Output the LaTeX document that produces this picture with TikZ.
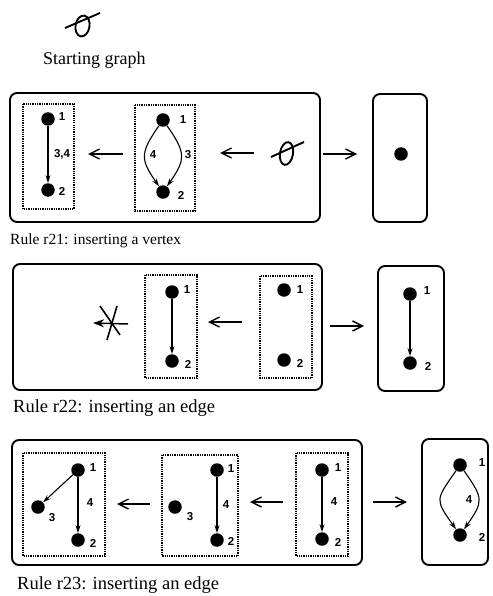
\documentclass[tikz,border=0pt]{standalone}
\usepackage{fontspec}
\setmainfont{Liberation Serif}
\newfontfamily\labfont{Liberation Sans}
\usetikzlibrary{arrows.meta}
\begin{document}
\begin{tikzpicture}[x=1pt,y=-1pt,
  vtx/.style={circle,fill=black,inner sep=0pt,minimum size=13.5pt},
  lab/.style={font=\labfont\bfseries\fontsize{11.5}{13}\selectfont,inner sep=0pt},
  captext/.style={font=\fontsize{18.5}{22}\selectfont,anchor=base west,inner sep=0pt},
  capsmall/.style={font=\fontsize{15.5}{18}\selectfont,anchor=base west,inner sep=0pt},
  rulebox/.style={draw,line width=1.9pt,rounded corners=7pt},
  lhsbox/.style={draw,densely dotted,line width=1.3pt},
  edge/.style={-{Stealth[length=8pt,width=5pt]},line width=1.1pt},
  morph/.style={-{Straight Barb[length=10pt,width=10pt,line width=1.4pt]},line width=1.6pt},
  emptyg/.style={line width=1.9pt}]
\useasboundingbox (0,0) rectangle (492,596);

% starting graph
\draw[emptyg,rotate around={-10:(82.5,26)}] (82.5,26) ellipse [x radius=7pt, y radius=10.5pt];
\draw[emptyg] (65,28) -- (100,13);
\node[captext,font=\fontsize{18}{22}\selectfont] (startcap) at (43,65) {Starting graph};

% ---------------- Rule r21 ----------------
\draw[rulebox] (10,93) rectangle (320,222);
\draw[rulebox] (373,94) rectangle (427,222);
\node[vtx] (r21v) at (401,154) {};
\coordinate (r21ma) at (323,154);
\coordinate (r21mb) at (357,154);
\draw[morph] (r21ma) -- (r21mb);
\draw[emptyg,rotate around={-10:(286.5,153.5)}] (286.5,153.5) ellipse [x radius=6.5pt, y radius=11.5pt];
\draw[emptyg] (271,157) -- (304,142);
\coordinate (r21la) at (254,153);
\coordinate (r21lb) at (220,153);
\draw[morph] (r21la) -- (r21lb);
% middle graph
\draw[lhsbox] (135,105) rectangle (195,211);
\node[vtx] (b1) at (163,120) {};
\node[vtx] (b2) at (163,192) {};
\node[lab] (b1l) at (183,120) {1};
\node[lab] (b2l) at (181,195) {2};
\draw[edge] (b1) to[out=235,in=125,looseness=1.4] (b2);
\draw[edge] (b1) to[out=-55,in=55,looseness=1.4] (b2);
\node[lab] (b4l) at (153,155) {4};
\node[lab] (b3l) at (188,155) {3};
\coordinate (r21ka) at (123,154);
\coordinate (r21kb) at (88,154);
\draw[morph] (r21ka) -- (r21kb);
% left graph
\draw[lhsbox] (23,104) rectangle (74,209);
\node[vtx] (c1) at (48,119) {};
\node[vtx] (c2) at (48,190) {};
\node[lab] (c1l) at (62,117) {1};
\node[lab] (c2l) at (62,191) {2};
\node[lab] (c34) at (62,154) {3,4};
\draw[edge] (c1) -- (c2);
\node[capsmall] (r21cap) at (10,244) {Rule r21: inserting a vertex};

% ---------------- Rule r22 ----------------
\draw[rulebox] (13,264) rectangle (322,390);
\draw[rulebox] (378,266) rectangle (444,391);
\node[vtx] (d1) at (410,294) {};
\node[vtx] (d2) at (410,363) {};
\node[lab] (d1l) at (427,291) {1};
\node[lab] (d2l) at (428,366) {2};
\draw[edge] (d1) -- (d2);
\coordinate (r22ma) at (330,326);
\coordinate (r22mb) at (364,326);
\draw[morph] (r22ma) -- (r22mb);
\draw[lhsbox] (260,276) rectangle (312,378);
\node[vtx] (e1) at (284,290) {};
\node[vtx] (e2) at (284,360) {};
\node[lab] (e1l) at (300,290) {1};
\node[lab] (e2l) at (300,363) {2};
\coordinate (r22la) at (242,322);
\coordinate (r22lb) at (208,322);
\draw[morph] (r22la) -- (r22lb);
\draw[lhsbox] (145,275) rectangle (197,378);
\node[vtx] (f1) at (172,292) {};
\node[vtx] (f2) at (172,361) {};
\node[lab] (f1l) at (187,290) {1};
\node[lab] (f2l) at (188,364) {2};
\draw[edge] (f1) -- (f2);
% crossed-out arrow
\coordinate (xa) at (128,324);
\coordinate (xb) at (93,323);
\draw[line width=1.5pt,-{Stealth[length=11pt,width=8pt]}] (xa) -- (xb);
\draw[line width=1.6pt] (100,306) -- (120,335);
\draw[line width=1.6pt] (117,306) -- (107,340);
\node[captext] (r22cap) at (13,412) {Rule r22: inserting an edge};

% ---------------- Rule r23 ----------------
\draw[rulebox] (12,440) rectangle (362,565);
\draw[rulebox] (422,439) rectangle (488,565);
\node[vtx] (g1) at (460,465) {};
\node[vtx] (g2) at (460,535) {};
\node[lab] (g1l) at (482,463) {1};
\node[lab] (g2l) at (482,537) {2};
\draw[edge] (g1) to[out=235,in=125,looseness=1.6] (g2);
\draw[edge] (g1) to[out=-55,in=55,looseness=1.5] (g2);
\node[lab] (g4l) at (469,500) {4};
\coordinate (r23ma) at (373,502);
\coordinate (r23mb) at (407,502);
\draw[morph] (r23ma) -- (r23mb);
\draw[lhsbox] (296,453) rectangle (348,556);
\node[vtx] (h1) at (322,470) {};
\node[vtx] (h2) at (322,539) {};
\node[lab] (h1l) at (338,468) {1};
\node[lab] (h2l) at (338,542) {2};
\node[lab] (h4l) at (334,502) {4};
\draw[edge] (h1) -- (h2);
\coordinate (r23la) at (283,502);
\coordinate (r23lb) at (250,502);
\draw[morph] (r23la) -- (r23lb);
\draw[lhsbox] (162,455) rectangle (238,556);
\node[vtx] (i1) at (217,470) {};
\node[vtx] (i2) at (217,540) {};
\node[vtx] (i3) at (175,507) {};
\node[lab] (i1l) at (231,469) {1};
\node[lab] (i2l) at (231,541) {2};
\node[lab] (i3l) at (190,517) {3};
\node[lab] (i4l) at (226,505) {4};
\draw[edge] (i1) -- (i2);
\coordinate (r23ka) at (150,504);
\coordinate (r23kb) at (117,504);
\draw[morph] (r23ka) -- (r23kb);
\draw[lhsbox] (23,453) rectangle (105,556);
\node[vtx] (j1) at (78,470) {};
\node[vtx] (j2) at (78,540) {};
\node[vtx] (j3) at (38,507) {};
\node[lab] (j1l) at (93,468) {1};
\node[lab] (j2l) at (93,543) {2};
\node[lab] (j3l) at (52,518) {3};
\node[lab] (j4l) at (90,503) {4};
\draw[edge] (j1) -- (j2);
\draw[edge] (j1) -- (j3);
\node[captext] (r23cap) at (17,589) {Rule r23: inserting an edge};
\end{tikzpicture}
\end{document}
